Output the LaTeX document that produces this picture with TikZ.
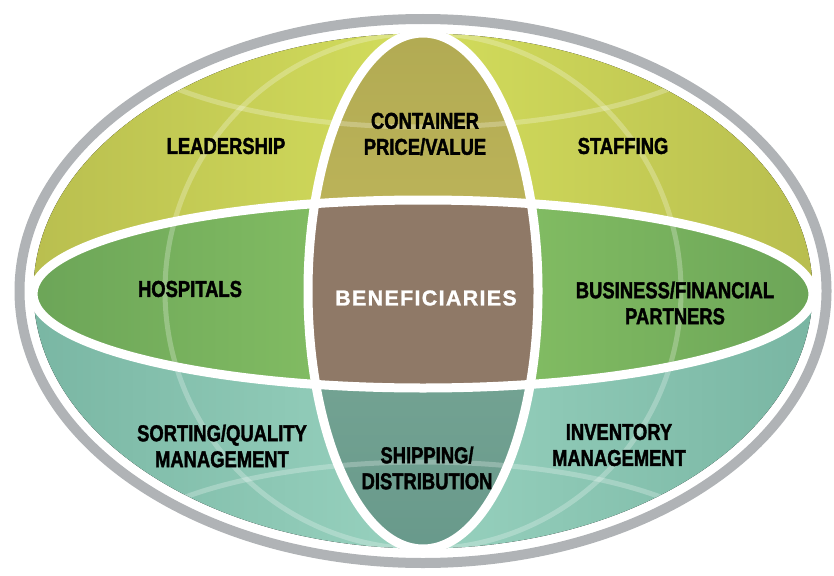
\documentclass[tikz,border=0pt]{standalone}
\usepackage{fontspec}
\setmainfont{Liberation Sans}
\newfontfamily\condfont[FakeStretch=0.8, FakeBold=1.6]{Liberation Sans}
\newfontfamily\spacedfont[LetterSpace=6, FakeBold=1.2]{Liberation Sans}
\usetikzlibrary{positioning}

\definecolor{ringgrey}{HTML}{B0B3B6}
\definecolor{leafdark}{HTML}{B7BC4E}
\definecolor{leaflight}{HTML}{D3DD5C}
\definecolor{olivetop}{HTML}{B0A952}
\definecolor{olivebot}{HTML}{C0B75B}
\definecolor{greendark}{HTML}{6CA558}
\definecolor{greenlight}{HTML}{89C466}
\definecolor{tealdark}{HTML}{77B4A1}
\definecolor{teallight}{HTML}{98D2BF}
\definecolor{deeptealtop}{HTML}{78A796}
\definecolor{deeptealbot}{HTML}{67988A}
\definecolor{earth}{HTML}{8F7967}

\tikzset{
  part/.style={font=\condfont\bfseries\fontsize{23}{26}\selectfont, align=center, text=black, inner sep=0pt},
  centre/.style={font=\spacedfont\bfseries\fontsize{21.5}{24}\selectfont, text=white, inner sep=0pt},
  border/.style={draw=white, line width=9pt},
  gridline/.style={draw=white, opacity=0.25, line width=5pt}
}

\begin{document}
\begin{tikzpicture}[x=1pt, y=-1pt]
  \useasboundingbox (0,0) rectangle (834,575);
  \coordinate (C) at (423,291);
  \coordinate (M) at (423,294);

  % grey rim
  \draw[ringgrey, line width=10pt] (C) ellipse [x radius=403.5pt, y radius=272pt];

  \begin{scope}
    \clip (C) ellipse [x radius=389.5pt, y radius=257.5pt];
    % upper and lower halves
    \fill[left color=leafdark, right color=leafdark, middle color=leaflight] (0,0) rectangle (834,294);
    \fill[left color=tealdark, right color=tealdark, middle color=teallight] (0,294) rectangle (834,575);
    % middle band
    \fill[left color=greendark, right color=greendark, middle color=greenlight] (M) ellipse [x radius=390pt, y radius=94pt];
    % vertical band
    \begin{scope}
      \clip (C) ellipse [x radius=115pt, y radius=258pt];
      \fill[top color=olivetop, bottom color=olivebot] (0,0) rectangle (834,294);
      \fill[top color=deeptealtop, bottom color=deeptealbot] (0,294) rectangle (834,575);
      \fill[earth] (M) ellipse [x radius=390pt, y radius=94pt];
    \end{scope}
    % globe lines
    \draw[gridline] (C) ellipse [x radius=258pt, y radius=258pt];
    \begin{scope}
      \clip (173,0) rectangle (673,575);
      \draw[gridline] (423,21) ellipse [x radius=320pt, y radius=106pt];
      \draw[gridline] (423,568) ellipse [x radius=320pt, y radius=106pt];
    \end{scope}
  \end{scope}

  % white borders
  \draw[border] (M) ellipse [x radius=390pt, y radius=94pt];
  \draw[border] (C) ellipse [x radius=115pt, y radius=258pt];

  \node[part] (leadership) at (226,146) {LEADERSHIP};
  \node[part] (container) at (425,134) {CONTAINER\\PRICE/VALUE};
  \node[part] (staffing) at (623,146) {STAFFING};
  \node[part] (hospitals) at (190,289) {HOSPITALS};
  \node[centre] (beneficiaries) at (426,298) {BENEFICIARIES};
  \node[part] (partners) at (675,303) {BUSINESS/FINANCIAL\\PARTNERS};
  \node[part] (sorting) at (222,446) {SORTING/QUALITY\\MANAGEMENT};
  \node[part] (shipping) at (427,468) {SHIPPING/\\DISTRIBUTION};
  \node[part] (inventory) at (619,445) {INVENTORY\\MANAGEMENT};
\end{tikzpicture}
\end{document}
